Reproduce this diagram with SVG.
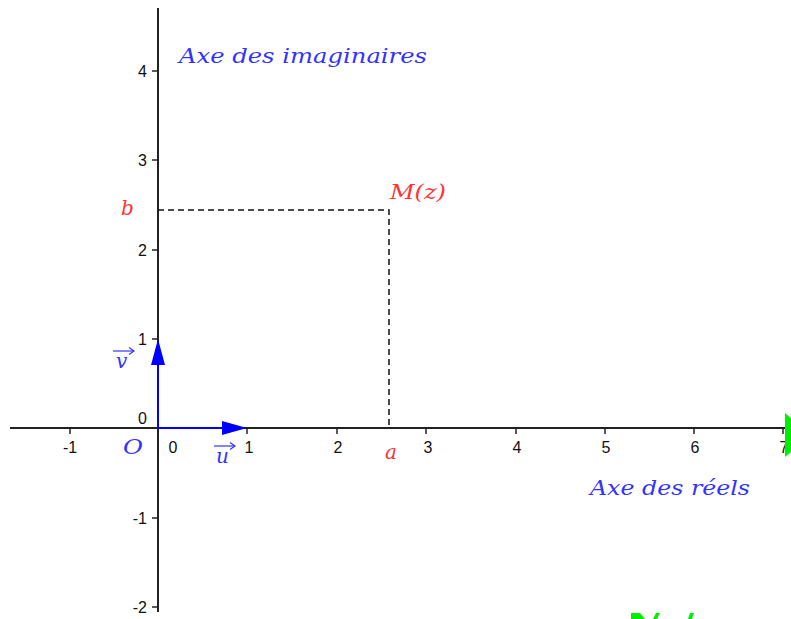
<svg xmlns="http://www.w3.org/2000/svg" width="791" height="619" viewBox="0 0 791 619">
<style>
.axis{stroke:#222;stroke-width:2;fill:none}
.tick{stroke:#222;stroke-width:1.5}
.num{font-family:"Liberation Sans",Arial,sans-serif;font-size:16px;fill:#111}
.blue{font-family:"DejaVu Serif","Liberation Serif",serif;font-style:italic;fill:#3333ff}
.red{font-family:"DejaVu Serif","Liberation Serif",serif;font-style:italic;fill:#ff3333}
.dash{stroke:#111;stroke-width:1.5;stroke-dasharray:6,4;fill:none}
.vec{stroke:#0000ff;stroke-width:2;fill:none}
.green{fill:#00ee00}
</style>
<rect width="791" height="619" fill="#fff"/>
<g id="axes">
<line class="axis" x1="10" y1="428" x2="791" y2="428"/>
<line class="axis" x1="158" y1="8" x2="158" y2="612"/>
<g class="tick">
<line x1="70" y1="428" x2="70" y2="434"/><line x1="247" y1="428" x2="247" y2="434"/><line x1="337" y1="428" x2="337" y2="434"/><line x1="426" y1="428" x2="426" y2="434"/><line x1="516" y1="428" x2="516" y2="434"/><line x1="605" y1="428" x2="605" y2="434"/><line x1="694" y1="428" x2="694" y2="434"/><line x1="783" y1="428" x2="783" y2="434"/>
<line x1="152" y1="71" x2="158" y2="71"/><line x1="152" y1="160" x2="158" y2="160"/><line x1="152" y1="250" x2="158" y2="250"/><line x1="152" y1="339" x2="158" y2="339"/><line x1="152" y1="518" x2="158" y2="518"/><line x1="152" y1="607" x2="158" y2="607"/>
</g>
<g class="num" text-anchor="middle">
<text x="70" y="453">-1</text><text x="173" y="453">0</text><text x="249" y="453">1</text><text x="338" y="453">2</text><text x="428" y="453">3</text><text x="517" y="453">4</text><text x="606" y="453">5</text><text x="695" y="453">6</text><text x="784" y="453">7</text>
</g>
<g class="num" text-anchor="end">
<text x="147" y="77">4</text><text x="147" y="166">3</text><text x="147" y="256">2</text><text x="147" y="345">1</text><text x="147" y="424">0</text><text x="147" y="524">-1</text><text x="147" y="613">-2</text>
</g>
</g>
<g id="connectors">
<polyline class="dash" points="158,210 389,210 389,428"/>
</g>
<g id="vector-u">
<line class="vec" x1="158" y1="428" x2="226" y2="428"/>
<polygon points="222,421 247,428 222,435" fill="#0000ff"/>
<text class="blue" x="216" y="463" font-size="20">u</text>
<line x1="214" y1="446" x2="235" y2="446" stroke="#3333ff" stroke-width="1.2"/>
<polyline points="230,442.5 235,446 230,449.5" fill="none" stroke="#3333ff" stroke-width="1.2"/>
</g>
<g id="vector-v">
<line class="vec" x1="158" y1="428" x2="158" y2="360"/>
<polygon points="151,365 158,339 165,365" fill="#0000ff"/>
<text class="blue" x="116" y="368" font-size="20">v</text>
<line x1="113" y1="351" x2="134" y2="351" stroke="#3333ff" stroke-width="1.2"/>
<polyline points="129,347.5 134,351 129,354.5" fill="none" stroke="#3333ff" stroke-width="1.2"/>
</g>
<g id="labels">
<text class="blue" x="123" y="454" font-size="21" textLength="20" lengthAdjust="spacingAndGlyphs">O</text>
<text class="blue" x="179" y="63" font-size="20" textLength="248" lengthAdjust="spacingAndGlyphs">Axe des imaginaires</text>
<text class="blue" x="590" y="495" font-size="20" textLength="160" lengthAdjust="spacingAndGlyphs">Axe des réels</text>
<text class="red" x="390" y="199" font-size="20" textLength="56" lengthAdjust="spacingAndGlyphs">M(z)</text>
<text class="red" x="121" y="215" font-size="20">b</text>
<text class="red" x="385" y="459" font-size="20">a</text>
</g>
<g id="green-fragments">
<polygon class="green" points="785,413 791,418 791,452 785,457"/>
<polygon class="green" points="631,613 640,613 645,619 631,619"/>
<polygon class="green" points="656,613 660,613 657,619 653,619"/>
<polygon class="green" points="690,613 694,613 692,619 688,619"/>
</g>
</svg>
